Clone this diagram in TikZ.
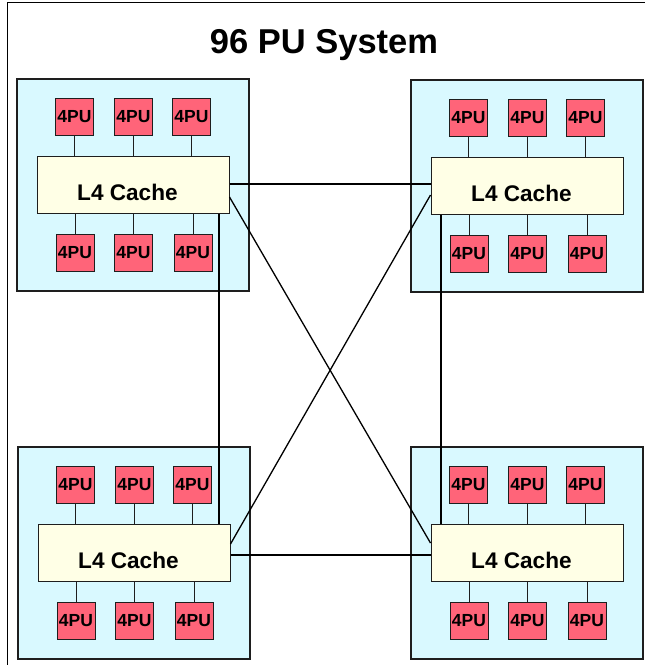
\documentclass[tikz,border=0pt]{standalone}
\usepackage{fontspec}
\setmainfont{Liberation Sans}
\definecolor{clusterfill}{RGB}{217,249,255}
\definecolor{cachefill}{RGB}{255,255,230}
\definecolor{pufill}{RGB}{255,100,121}
\definecolor{edgec}{RGB}{30,30,30}
\tikzset{
  clusterbox/.style={draw=edgec, line width=1.3pt, fill=clusterfill, minimum width=232pt, minimum height=212pt, inner sep=0pt},
  cachebox/.style={draw=edgec, line width=1pt, fill=cachefill, minimum width=192pt, minimum height=57pt, inner sep=0pt},
  cachelabel/.style={anchor=base west, inner sep=0pt, font=\fontsize{22.6}{26}\selectfont\bfseries},
  pubox/.style={draw=edgec, line width=1pt, fill=pufill, minimum width=38pt, minimum height=37pt, inner sep=0pt, font=\fontsize{17.5}{20}\selectfont\bfseries},
  pulink/.style={draw=edgec, line width=1pt},
  link/.style={draw=black, line width=1.3pt},
  frame/.style={draw=black, line width=1.2pt}
}
\newcommand\mycluster[3]{%
  \node[clusterbox] (#1) at (#2+116,#3+106) {};
  \node[cachebox] (#1c) at (#2+116,#3+106) {};
  \node[cachelabel] (#1t) at (#2+60,#3+121) {L4 Cache};
  \node[pubox] (#1a) at (#2+57.5,#3+38) {4PU};
  \node[pubox] (#1b) at (#2+116.5,#3+38) {4PU};
  \node[pubox] (#1d) at (#2+174.5,#3+38) {4PU};
  \node[pubox] (#1e) at (#2+58,#3+174) {4PU};
  \node[pubox] (#1f) at (#2+116.5,#3+174) {4PU};
  \node[pubox] (#1g) at (#2+176,#3+174) {4PU};
  \draw[pulink] (#1a.south) -- (#1a.south |- #1c.north);
  \draw[pulink] (#1b.south) -- (#1b.south |- #1c.north);
  \draw[pulink] (#1d.south) -- (#1d.south |- #1c.north);
  \draw[pulink] (#1e.north) -- (#1e.north |- #1c.south);
  \draw[pulink] (#1f.north) -- (#1f.north |- #1c.south);
  \draw[pulink] (#1g.north) -- (#1g.north |- #1c.south);
}
\begin{document}
\begin{tikzpicture}[x=1pt,y=-1pt]
\useasboundingbox (0,0) rectangle (645,665);
\draw[frame] (7.5,665) -- (7.5,2.5) -- (645,2.5);
\node[anchor=base, inner sep=0pt, font=\fontsize{34.5}{40}\selectfont\bfseries] (title) at (324,53) {96 PU System};
\mycluster{TL}{17}{79}
\mycluster{TR}{411}{80}
\mycluster{BL}{18}{447}
\mycluster{BR}{411}{447}
% inter-cluster links
\draw[link] ([yshift=1pt]TLc.east) -- ([yshift=2pt]TRc.west);
\draw[link] ([yshift=-12pt]TLc.east) -- ([yshift=10pt]BRc.west);
\draw[link] ([yshift=-9pt]TRc.west) -- ([yshift=9pt]BLc.east);
\draw[link] ([yshift=-2pt]BLc.east) -- ([yshift=-2pt]BRc.west);
\draw[link] ([xshift=86pt]TLc.south) -- ([xshift=86pt]TLc.south |- BLc.north);
\draw[link] ([xshift=-86pt]TRc.south) -- ([xshift=-86pt]TRc.south |- BRc.north);
\end{tikzpicture}
\end{document}
